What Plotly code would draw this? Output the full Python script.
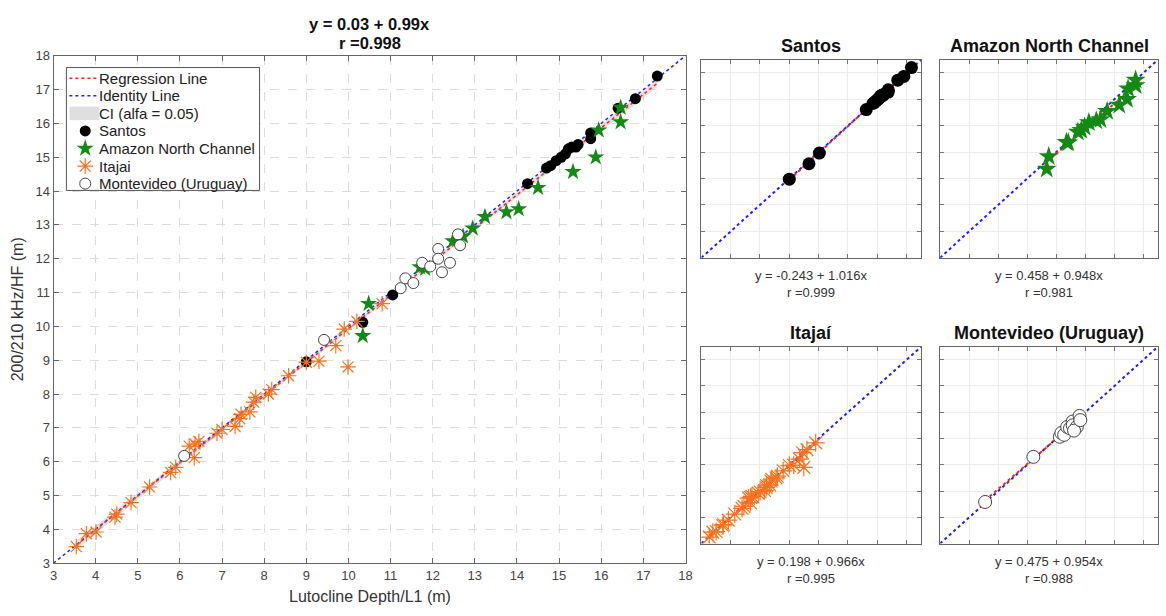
import numpy as np
import plotly.graph_objects as go

# ---------------- data (m) ----------------
santos_x = [9.0, 10.34, 11.05, 14.25, 14.7, 14.8, 14.93, 15.05, 15.15, 15.22, 15.3, 15.4,
            15.45, 15.75, 15.75, 16.4, 16.81, 17.33]
santos_y = [8.95, 10.12, 10.93, 14.22, 14.68, 14.75, 14.9, 15.0, 15.1, 15.25, 15.3, 15.3,
            15.38, 15.72, 15.55, 16.45, 16.73, 17.4]

amazon_x = [10.34, 10.48, 11.7, 11.82, 12.48, 12.72, 12.95, 13.24, 13.75, 14.04, 14.5,
            15.33, 15.87, 15.94, 16.46, 16.46]
amazon_y = [9.72, 10.67, 11.75, 11.71, 12.52, 12.66, 12.9, 13.24, 13.38, 13.47, 14.1,
            14.57, 15.0, 15.8, 16.04, 16.47]

itajai_x = [3.54, 3.78, 4.01, 4.46, 4.5, 4.84, 5.28, 5.78, 5.9, 6.22, 6.36, 6.34, 6.45,
            6.88, 7.0, 7.31, 7.42, 7.45, 7.66, 7.75, 7.8, 8.1, 8.18, 8.58, 9.0, 9.3,
            9.7, 9.9, 9.99, 10.2, 10.8]
itajai_y = [3.49, 3.87, 3.92, 4.36, 4.45, 4.79, 5.25, 5.68, 5.83, 6.46, 6.52, 6.12, 6.6,
            6.84, 6.95, 7.04, 7.27, 7.4, 7.47, 7.76, 7.9, 8.0, 8.13, 8.54, 8.94, 8.97,
            9.43, 9.92, 8.8, 10.15, 10.67]

montevideo_x = [6.1, 9.42, 11.24, 11.35, 11.54, 11.75, 11.94, 12.13, 12.13, 12.41, 12.22,
                12.6, 12.65]
montevideo_y = [6.17, 9.6, 11.13, 11.42, 11.28, 11.88, 11.77, 12.29, 12.0, 11.88, 11.6,
                12.72, 12.4]

# regression coefficients (intercept, slope, r)
fit_all = (0.03, 0.99, 0.998)
fit_santos = (-0.243, 1.016, 0.999)
fit_amazon = (0.458, 0.948, 0.981)
fit_itajai = (0.198, 0.966, 0.995)
fit_montevideo = (0.475, 0.954, 0.988)

legend_labels = ["Regression Line", "Identity Line", "CI (alfa = 0.05)", "Santos",
                 "Amazon North Channel", "Itajai", "Montevideo (Uruguay)"]

axis_min, axis_max = 3, 18

# ---------------- styling ----------------
W, H = 1166, 616
FONT = "Liberation Sans, Arial, sans-serif"
C_SANTOS = "black"
C_AMAZON = "#138a13"
C_ITAJAI = "#f5731f"
C_MONTE = "#444444"
C_REG = "#ff2020"
C_ID = "#2020ff"

MAIN_L, MAIN_R, MAIN_T, MAIN_B = 50, 688, 50, 570


def xdom(left, right):
    return [left / W, right / W]


def ydom(top, bottom):
    return [1 - bottom / H, 1 - top / H]


def px(x):
    return x / W


def py(y):
    return 1 - y / H


# pixel -> main-axis data units (used for the legend glyphs only)
def gx(p):
    return axis_min + (p - MAIN_L) / (MAIN_R - MAIN_L) * (axis_max - axis_min)


def gy(p):
    return axis_min + (MAIN_B - p) / (MAIN_B - MAIN_T) * (axis_max - axis_min)


fig = go.Figure()

# ---------------- main panel ----------------
all_x = np.array(santos_x + amazon_x + itajai_x + montevideo_x)
all_y = np.array(santos_y + amazon_y + itajai_y + montevideo_y)
b0, b1, r_all = fit_all
xs = np.linspace(all_x.min(), all_x.max(), 60)
yfit = b0 + b1 * xs

# 95% confidence band of the mean regression line
n = len(all_x)
resid = all_y - (b0 + b1 * all_x)
s = np.sqrt(np.sum(resid ** 2) / (n - 2))
sxx = np.sum((all_x - all_x.mean()) ** 2)
half = 1.99 * s * np.sqrt(1 / n + (xs - all_x.mean()) ** 2 / sxx)

fig.add_trace(go.Scatter(
    x=np.concatenate([xs, xs[::-1]]),
    y=np.concatenate([yfit + half, (yfit - half)[::-1]]),
    fill="toself", mode="none", fillcolor="rgba(200,200,200,0.55)",
    xaxis="x", yaxis="y", hoverinfo="skip"))
fig.add_trace(go.Scatter(
    x=[axis_min, axis_max], y=[axis_min, axis_max], mode="lines",
    line=dict(color=C_ID, width=1.5, dash="dot"), xaxis="x", yaxis="y", hoverinfo="skip"))
fig.add_trace(go.Scatter(
    x=xs, y=yfit, mode="lines",
    line=dict(color=C_REG, width=1.5, dash="dot"), xaxis="x", yaxis="y", hoverinfo="skip"))

mk_santos = dict(symbol="circle", size=11, color=C_SANTOS, line=dict(width=0))
mk_amazon = dict(symbol="star", size=13, color=C_AMAZON, line=dict(width=0))
mk_itajai = dict(symbol="asterisk-open", size=13, color=C_ITAJAI,
                 line=dict(color=C_ITAJAI, width=1.2))
mk_monte = dict(symbol="circle", size=11, color="white", line=dict(color=C_MONTE, width=1))

series = [
    ("Santos", santos_x, santos_y, mk_santos),
    ("Amazon North Channel", amazon_x, amazon_y, mk_amazon),
    ("Itajai", itajai_x, itajai_y, mk_itajai),
    ("Montevideo (Uruguay)", montevideo_x, montevideo_y, mk_monte),
]
for name, sx, sy, mk in series:
    fig.add_trace(go.Scatter(x=sx, y=sy, mode="markers", name=name, marker=mk,
                             xaxis="x", yaxis="y"))

# ---------------- small panels ----------------
def bigger(mk, add):
    out = dict(mk)
    out["size"] = mk["size"] + add
    return out


panels = [
    ("Santos", santos_x, santos_y, fit_santos, bigger(mk_santos, 2), (704, 926, 54, 257), 2),
    ("Amazon North Channel", amazon_x, amazon_y, fit_amazon, bigger(mk_amazon, 2),
     (945, 1165, 54, 257), 3),
    ("Itajaí", itajai_x, itajai_y, fit_itajai, bigger(mk_itajai, 2), (704, 926, 348, 550), 4),
    ("Montevideo (Uruguay)", montevideo_x, montevideo_y, fit_montevideo,
     bigger(mk_monte, 2), (945, 1165, 348, 550), 5),
]

axis_common_small = dict(
    range=[axis_min, axis_max], tick0=5, dtick=2, showticklabels=False,
    ticks="inside", ticklen=4, tickcolor="#777", showline=True, linecolor="#666",
    linewidth=1, mirror="ticks", showgrid=True, gridcolor="#ececec", gridwidth=1,
    zeroline=False, fixedrange=True)

annotations = []
for title, sx, sy, (a0, a1, rr), mk, (l, rgt, t, b), k in panels:
    xa, ya = f"x{k}", f"y{k}"
    sxa = np.array(sx)
    xr = np.array([sxa.min(), sxa.max()])
    fig.add_trace(go.Scatter(x=[axis_min, axis_max], y=[axis_min, axis_max], mode="lines",
                             line=dict(color=C_ID, width=2, dash="dot"),
                             xaxis=xa, yaxis=ya, hoverinfo="skip"))
    fig.add_trace(go.Scatter(x=xr, y=a0 + a1 * xr, mode="lines",
                             line=dict(color=C_REG, width=2, dash="dot"),
                             xaxis=xa, yaxis=ya, hoverinfo="skip"))
    fig.add_trace(go.Scatter(x=sx, y=sy, mode="markers", marker=mk, xaxis=xa, yaxis=ya))
    fig.layout[f"xaxis{k}"] = dict(axis_common_small, domain=xdom(l, rgt), anchor=ya)
    fig.layout[f"yaxis{k}"] = dict(axis_common_small, domain=ydom(t, b), anchor=xa)
    cx = (l + rgt) / 2
    annotations.append(dict(text=f"<b>{title}</b>", x=px(cx), y=py(t - 14), xref="paper",
                            yref="paper", showarrow=False, font=dict(size=18, color="#111"),
                            xanchor="center", yanchor="middle"))
    sign = "-" if a0 < 0 else ""
    annotations.append(dict(text=f"y = {sign}{abs(a0):.3f} + {a1:.3f}x", x=px(cx),
                            y=py(b + 18), xref="paper", yref="paper", showarrow=False,
                            font=dict(size=13, color="#333"), xanchor="center",
                            yanchor="middle"))
    annotations.append(dict(text=f"r ={rr:.3f}", x=px(cx), y=py(b + 36), xref="paper",
                            yref="paper", showarrow=False, font=dict(size=13, color="#333"),
                            xanchor="center", yanchor="middle"))

# main panel title, axis labels
annotations += [
    dict(text=f"<b>y = {b0:.2f} + {b1:.2f}x</b>", x=px(369), y=py(17), xref="paper",
         yref="paper", showarrow=False, font=dict(size=16.5, color="#111"),
         xanchor="center", yanchor="middle"),
    dict(text=f"<b>r ={r_all:.3f}</b>", x=px(369), y=py(37), xref="paper", yref="paper",
         showarrow=False, font=dict(size=16.5, color="#111"), xanchor="center",
         yanchor="middle"),
    dict(text="Lutocline Depth/L1 (m)", x=px(369), y=py(604), xref="paper", yref="paper",
         showarrow=False, font=dict(size=16, color="#333"), xanchor="center",
         yanchor="middle"),
    dict(text="200/210 kHz/HF (m)", x=px(14), y=py(310), xref="paper", yref="paper",
         showarrow=False, textangle=-90, font=dict(size=16, color="#333"),
         xanchor="center", yanchor="middle"),
]

# ---------------- legend box ----------------
LEG_L, LEG_T, LEG_R, LEG_B = 63, 62, 258, 188
ROW0, ROWH = 73, 18
SAMPLE_L, SAMPLE_R, TEXT_X = 66, 96, 94
shapes = [dict(type="rect", xref="x", yref="y", x0=gx(LEG_L), x1=gx(LEG_R),
               y0=gy(LEG_T), y1=gy(LEG_B), fillcolor="white",
               line=dict(color="#555", width=1), layer="between")]
rows = [ROW0 + ROWH * i for i in range(len(legend_labels))]
for yy, col in ((rows[0], C_REG), (rows[1], C_ID)):
    shapes.append(dict(type="line", xref="paper", yref="paper", x0=px(SAMPLE_L),
                       x1=px(SAMPLE_R), y0=py(yy), y1=py(yy),
                       line=dict(color=col, width=1.5, dash="dot"), layer="above"))
shapes.append(dict(type="rect", xref="paper", yref="paper", x0=px(SAMPLE_L),
                   x1=px(SAMPLE_R), y0=py(rows[2] + 7), y1=py(rows[2] - 7),
                   fillcolor="rgba(215,215,215,0.8)", line=dict(width=0), layer="above"))
for i, (_, _, _, mk) in enumerate(series):
    fig.add_trace(go.Scatter(x=[gx(82)], y=[gy(rows[3 + i])], mode="markers", marker=mk,
                             xaxis="x", yaxis="y", hoverinfo="skip"))
for yy, lab in zip(rows, legend_labels):
    annotations.append(dict(text=lab, x=px(TEXT_X), y=py(yy), xref="paper", yref="paper",
                            showarrow=False, font=dict(size=15, color="#222"),
                            xanchor="left", yanchor="middle"))

main_axis = dict(
    range=[axis_min, axis_max], dtick=1, tick0=3, ticks="inside", ticklen=5,
    tickcolor="#666", showline=True, linecolor="#666", linewidth=1, mirror="ticks",
    showgrid=True, gridcolor="#dcdcdc", griddash="dash", gridwidth=1, zeroline=False,
    tickfont=dict(size=13, color="#444"), fixedrange=True)

fig.update_layout(
    width=W, height=H, margin=dict(l=0, r=0, t=0, b=0),
    paper_bgcolor="white", plot_bgcolor="white",
    font=dict(family=FONT, color="#222"),
    xaxis=dict(main_axis, domain=xdom(MAIN_L, MAIN_R), anchor="y"),
    yaxis=dict(main_axis, domain=ydom(MAIN_T, MAIN_B), anchor="x"),
    annotations=annotations,
    shapes=shapes,
    showlegend=False,
)

fig.write_html("out.html")
